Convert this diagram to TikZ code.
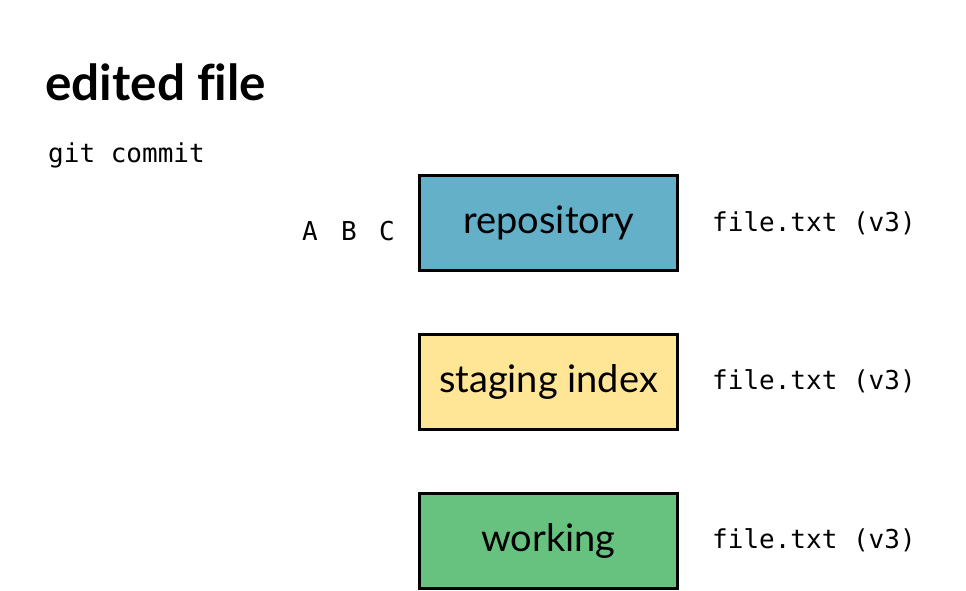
\documentclass[tikz,border=0pt]{standalone}
\usepackage{fontspec}
\setmainfont{Lato}[Ligatures=CommonOff]
\newfontfamily\codefont{DejaVu Sans Mono}
\usetikzlibrary{positioning}

\definecolor{repoblue}{RGB}{99,176,200}
\definecolor{stageyellow}{RGB}{255,230,150}
\definecolor{workgreen}{RGB}{103,194,128}

\begin{document}
\begin{tikzpicture}[x=1pt, y=-1pt,
    area/.style={draw=black, line width=3pt, minimum width=258pt, minimum height=95pt, inner sep=0pt, font=\fontsize{38}{44}\selectfont},
    code/.style={font=\codefont\fontsize{26}{30}\selectfont, inner sep=0pt}]
    \useasboundingbox[fill=white] (0,0) rectangle (966,590);
    \node[anchor=base west, inner sep=0pt, font=\bfseries\fontsize{49.5}{56}\selectfont] (title) at (45,100) {edited file};
    \node[code, anchor=base west] (cmd) at (48,162) {git commit};
    % the three areas
    \node[area, fill=repoblue] (repo) at (548.5,223) {repository};
    \node[area, fill=stageyellow, below=61pt of repo] (stage) {staging index};
    \node[area, fill=workgreen, below=61pt of stage] (work) {working};
    % file versions
    \node[code, anchor=west] (repofile) at (712,223) {file.txt (v3)};
    \node[code, anchor=west] (stagefile) at (712,381) {file.txt (v3)};
    \node[code, anchor=west] (workfile) at (712,540) {file.txt (v3)};
    % commits
    \node[code, anchor=base] (commitA) at (310,240) {A};
    \node[code, anchor=base] (commitB) at (349,240) {B};
    \node[code, anchor=base] (commitC) at (387,240) {C};
\end{tikzpicture}
\end{document}
